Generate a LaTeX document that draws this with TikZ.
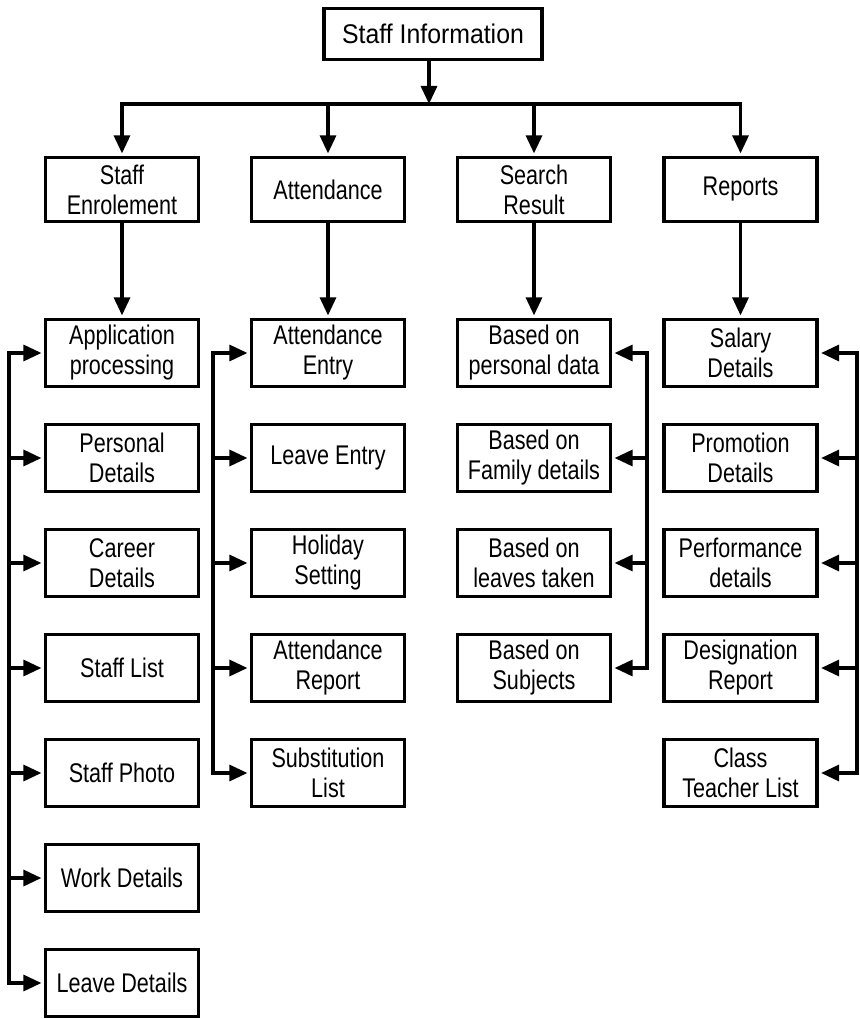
\documentclass[tikz,border=0pt]{standalone}
\usepackage{fontspec}
\setmainfont{Liberation Sans}[FakeStretch=0.8]
\newfontfamily\topfont{Liberation Sans}[FakeStretch=0.92]
\usetikzlibrary{arrows.meta}
\begin{document}
\begin{tikzpicture}[x=1pt,y=-1pt,
  box/.style={draw,line width=3.2pt,minimum width=153pt,minimum height=67pt,
    align=center,inner sep=0pt,font=\fontsize{27}{30}\selectfont},
  conn/.style={line width=3.2pt},
  arr/.style={conn,-{Triangle[length=18pt,width=16pt]},shorten >=2.5pt},
  arrtouch/.style={conn,-{Triangle[length=18pt,width=16pt]}}]
\useasboundingbox (0,0) rectangle (859,1019);

% top
\node[box,minimum width=218pt,minimum height=51pt,
  font=\topfont\fontsize{27}{30}\selectfont] (top) at (433,34) {Staff Information};

% level 1
\node[box,minimum height=64pt] (se) at (122,189.5) {Staff\\Enrolement};
\node[box,minimum height=64pt] (at) at (328,189.5) {Attendance};
\node[box,minimum height=64pt] (sr) at (534,189.5) {Search\\Result};
\node[box,minimum height=64pt] (rp) at (740.5,189.5) {Reports};

% column 1
\node[box] (a1) at (122,353) {Application\\processing};
\node[box] (a2) at (122,458) {Personal\\Details};
\node[box] (a3) at (122,563) {Career\\Details};
\node[box] (a4) at (122,668) {Staff List};
\node[box] (a5) at (122,773) {Staff Photo};
\node[box] (a6) at (122,878) {Work Details};
\node[box] (a7) at (122,983) {Leave Details};

% column 2
\node[box] (e1) at (328,353) {Attendance\\Entry};
\node[box] (e2) at (328,458) {Leave Entry};
\node[box] (e3) at (328,563) {Holiday\\Setting};
\node[box] (e4) at (328,668) {Attendance\\Report};
\node[box] (e5) at (328,773) {Substitution\\List};

% column 3
\node[box] (s1) at (534,353) {Based on\\personal data};
\node[box] (s2) at (534,458) {Based on\\Family details};
\node[box] (s3) at (534,563) {Based on\\leaves taken};
\node[box] (s4) at (534,668) {Based on\\Subjects};

% column 4
\node[box] (r1) at (740.5,353) {Salary\\Details};
\node[box] (r2) at (740.5,458) {Promotion\\Details};
\node[box] (r3) at (740.5,563) {Performance\\details};
\node[box] (r4) at (740.5,668) {Designation\\Report};
\node[box] (r5) at (740.5,773) {Class\\Teacher List};

% top connectors
\coordinate (hub) at (429,104);
\draw[arrtouch] (top.south -| hub) -- (hub);
\draw[conn,line cap=rect] (se.north |- hub) -- (rp.north |- hub);
\foreach \n in {se,at,sr,rp} \draw[arr] (\n.north |- hub) -- (\n.north);

% level 1 to level 2
\draw[arr] (se) -- (a1);
\draw[arr] (at) -- (e1);
\draw[arr] (sr) -- (s1);
\draw[arr] (rp) -- (r1);

% buses
\coordinate (b1) at (9,0);
\coordinate (b2) at (213,0);
\coordinate (b3) at (647,0);
\coordinate (b4) at (857,0);

\draw[conn,line cap=rect] (a1.west -| b1) -- (a7.west -| b1);
\foreach \i in {1,...,7} \draw[arr] (a\i.west -| b1) -- (a\i.west);

\draw[conn,line cap=rect] (e1.west -| b2) -- (e5.west -| b2);
\foreach \i in {1,...,5} \draw[arr] (e\i.west -| b2) -- (e\i.west);

\draw[conn,line cap=rect] (s1.east -| b3) -- (s4.east -| b3);
\foreach \i in {1,...,4} \draw[arr] (s\i.east -| b3) -- (s\i.east);

\draw[conn,line cap=rect] (r1.east -| b4) -- (r5.east -| b4);
\foreach \i in {1,...,5} \draw[arr] (r\i.east -| b4) -- (r\i.east);
\end{tikzpicture}
\end{document}
